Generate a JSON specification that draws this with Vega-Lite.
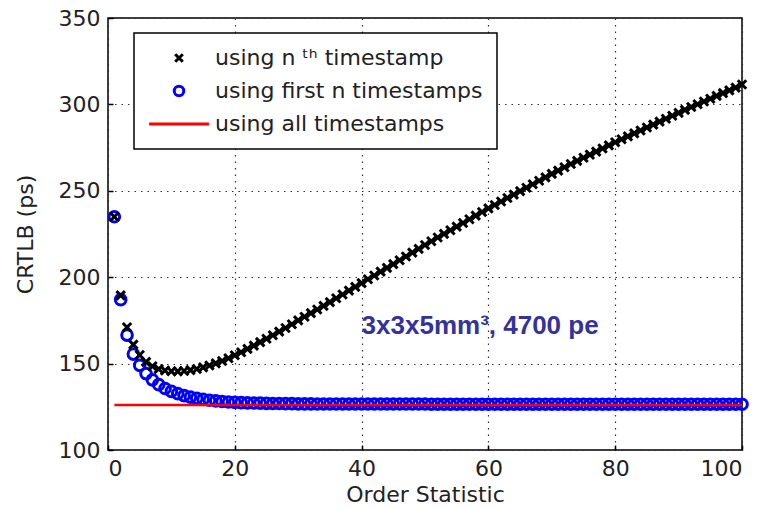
{
  "$schema": "https://vega.github.io/schema/vega-lite/v6.json",
  "width": 634,
  "height": 432,
  "autosize": "none",
  "padding": {"left": 108, "top": 18, "right": 20, "bottom": 59},
  "background": "white",
  "config": {
    "view": {"stroke": "black", "strokeWidth": 1.5},
    "axis": {
      "labelFont": "DejaVu Sans", "labelFontSize": 22, "labelColor": "#222",
      "titleFont": "DejaVu Sans", "titleFontSize": 22, "titleFontWeight": "normal", "titleColor": "#222",
      "grid": true, "gridDash": [1.5, 5], "gridColor": "#333", "gridWidth": 1.2,
      "domain": false, "tickColor": "black", "tickSize": -5, "tickWidth": 1.5
    },
    "legend": {
      "orient": "none", "legendX": 26, "legendY": 15,
      "strokeColor": "black", "strokeWidth": 1.5, "fillColor": "white",
      "padding": 14, "symbolOffset": 20, "labelOffset": 25,
      "labelFont": "DejaVu Sans", "labelFontSize": 22, "labelColor": "#222",
      "rowPadding": 11, "symbolStrokeWidth": 3, "symbolSize": 90,
      "symbolFillColor": "transparent", "labelLimit": 400
    }
  },
  "data": {"values": [
    {"n":1,"v":235,"s":"b"},{"n":2,"v":187,"s":"b"},{"n":3,"v":166.5,"s":"b"},{"n":4,"v":155.5,"s":"b"},{"n":5,"v":149,"s":"b"},
    {"n":6,"v":144.2,"s":"b"},{"n":7,"v":140.6,"s":"b"},{"n":8,"v":137.8,"s":"b"},{"n":9,"v":135.6,"s":"b"},{"n":10,"v":133.9,"s":"b"},
    {"n":11,"v":132.6,"s":"b"},{"n":12,"v":131.5,"s":"b"},{"n":13,"v":130.6,"s":"b"},{"n":14,"v":129.9,"s":"b"},{"n":15,"v":129.3,"s":"b"},
    {"n":16,"v":128.8,"s":"b"},{"n":17,"v":128.4,"s":"b"},{"n":18,"v":128.1,"s":"b"},{"n":19,"v":127.8,"s":"b"},{"n":20,"v":127.6,"s":"b"},
    {"n":21,"v":127.4,"s":"b"},{"n":22,"v":127.3,"s":"b"},{"n":23,"v":127.2,"s":"b"},{"n":24,"v":127.1,"s":"b"},{"n":25,"v":127,"s":"b"},
    {"n":26,"v":126.9,"s":"b"},{"n":27,"v":126.9,"s":"b"},{"n":28,"v":126.8,"s":"b"},{"n":29,"v":126.8,"s":"b"},{"n":30,"v":126.7,"s":"b"},
    {"n":31,"v":126.7,"s":"b"},{"n":32,"v":126.7,"s":"b"},{"n":33,"v":126.6,"s":"b"},{"n":34,"v":126.6,"s":"b"},{"n":35,"v":126.6,"s":"b"},
    {"n":36,"v":126.6,"s":"b"},{"n":37,"v":126.6,"s":"b"},{"n":38,"v":126.6,"s":"b"},{"n":39,"v":126.6,"s":"b"},{"n":40,"v":126.6,"s":"b"},
    {"n":41,"v":126.6,"s":"b"},{"n":42,"v":126.6,"s":"b"},{"n":43,"v":126.6,"s":"b"},{"n":44,"v":126.6,"s":"b"},{"n":45,"v":126.6,"s":"b"},
    {"n":46,"v":126.6,"s":"b"},{"n":47,"v":126.6,"s":"b"},{"n":48,"v":126.6,"s":"b"},{"n":49,"v":126.6,"s":"b"},{"n":50,"v":126.6,"s":"b"},
    {"n":51,"v":126.5,"s":"b"},{"n":52,"v":126.5,"s":"b"},{"n":53,"v":126.5,"s":"b"},{"n":54,"v":126.5,"s":"b"},{"n":55,"v":126.5,"s":"b"},
    {"n":56,"v":126.5,"s":"b"},{"n":57,"v":126.5,"s":"b"},{"n":58,"v":126.5,"s":"b"},{"n":59,"v":126.5,"s":"b"},{"n":60,"v":126.5,"s":"b"},
    {"n":61,"v":126.5,"s":"b"},{"n":62,"v":126.5,"s":"b"},{"n":63,"v":126.5,"s":"b"},{"n":64,"v":126.5,"s":"b"},{"n":65,"v":126.5,"s":"b"},
    {"n":66,"v":126.5,"s":"b"},{"n":67,"v":126.5,"s":"b"},{"n":68,"v":126.5,"s":"b"},{"n":69,"v":126.5,"s":"b"},{"n":70,"v":126.5,"s":"b"},
    {"n":71,"v":126.5,"s":"b"},{"n":72,"v":126.5,"s":"b"},{"n":73,"v":126.5,"s":"b"},{"n":74,"v":126.5,"s":"b"},{"n":75,"v":126.5,"s":"b"},
    {"n":76,"v":126.5,"s":"b"},{"n":77,"v":126.5,"s":"b"},{"n":78,"v":126.5,"s":"b"},{"n":79,"v":126.5,"s":"b"},{"n":80,"v":126.5,"s":"b"},
    {"n":81,"v":126.5,"s":"b"},{"n":82,"v":126.5,"s":"b"},{"n":83,"v":126.5,"s":"b"},{"n":84,"v":126.5,"s":"b"},{"n":85,"v":126.5,"s":"b"},
    {"n":86,"v":126.5,"s":"b"},{"n":87,"v":126.5,"s":"b"},{"n":88,"v":126.5,"s":"b"},{"n":89,"v":126.5,"s":"b"},{"n":90,"v":126.5,"s":"b"},
    {"n":91,"v":126.5,"s":"b"},{"n":92,"v":126.5,"s":"b"},{"n":93,"v":126.5,"s":"b"},{"n":94,"v":126.5,"s":"b"},{"n":95,"v":126.5,"s":"b"},
    {"n":96,"v":126.5,"s":"b"},{"n":97,"v":126.5,"s":"b"},{"n":98,"v":126.5,"s":"b"},{"n":99,"v":126.5,"s":"b"},{"n":100,"v":126.5,"s":"b"},
    {"n":1,"v":235,"s":"a"},{"n":2,"v":189.5,"s":"a"},{"n":3,"v":171,"s":"a"},{"n":4,"v":161,"s":"a"},{"n":5,"v":155,"s":"a"},
    {"n":6,"v":151,"s":"a"},{"n":7,"v":148.5,"s":"a"},{"n":8,"v":146.9,"s":"a"},{"n":9,"v":146,"s":"a"},{"n":10,"v":145.6,"s":"a"},
    {"n":11,"v":145.5,"s":"a"},{"n":12,"v":145.7,"s":"a"},{"n":13,"v":146.2,"s":"a"},{"n":14,"v":146.9,"s":"a"},{"n":15,"v":147.8,"s":"a"},
    {"n":16,"v":148.9,"s":"a"},{"n":17,"v":150.1,"s":"a"},{"n":18,"v":151.5,"s":"a"},{"n":19,"v":153.1,"s":"a"},{"n":20,"v":154.8,"s":"a"},
    {"n":21,"v":156.6,"s":"a"},{"n":22,"v":158.5,"s":"a"},{"n":23,"v":160.4,"s":"a"},{"n":24,"v":162.4,"s":"a"},{"n":25,"v":164.4,"s":"a"},
    {"n":26,"v":166.4,"s":"a"},{"n":27,"v":168.5,"s":"a"},{"n":28,"v":170.6,"s":"a"},{"n":29,"v":172.8,"s":"a"},{"n":30,"v":175,"s":"a"},
    {"n":31,"v":177.1,"s":"a"},{"n":32,"v":179.2,"s":"a"},{"n":33,"v":181.3,"s":"a"},{"n":34,"v":183.4,"s":"a"},{"n":35,"v":185.6,"s":"a"},
    {"n":36,"v":187.8,"s":"a"},{"n":37,"v":190,"s":"a"},{"n":38,"v":192.2,"s":"a"},{"n":39,"v":194.4,"s":"a"},{"n":40,"v":196.6,"s":"a"},
    {"n":41,"v":198.8,"s":"a"},{"n":42,"v":201,"s":"a"},{"n":43,"v":203.2,"s":"a"},{"n":44,"v":205.4,"s":"a"},{"n":45,"v":207.6,"s":"a"},
    {"n":46,"v":209.8,"s":"a"},{"n":47,"v":212,"s":"a"},{"n":48,"v":214.2,"s":"a"},{"n":49,"v":216.4,"s":"a"},{"n":50,"v":218.6,"s":"a"},
    {"n":51,"v":220.8,"s":"a"},{"n":52,"v":223,"s":"a"},{"n":53,"v":225.1,"s":"a"},{"n":54,"v":227.2,"s":"a"},{"n":55,"v":229.3,"s":"a"},
    {"n":56,"v":231.4,"s":"a"},{"n":57,"v":233.5,"s":"a"},{"n":58,"v":235.6,"s":"a"},{"n":59,"v":237.7,"s":"a"},{"n":60,"v":239.8,"s":"a"},
    {"n":61,"v":241.8,"s":"a"},{"n":62,"v":243.8,"s":"a"},{"n":63,"v":245.8,"s":"a"},{"n":64,"v":247.8,"s":"a"},{"n":65,"v":249.8,"s":"a"},
    {"n":66,"v":251.8,"s":"a"},{"n":67,"v":253.8,"s":"a"},{"n":68,"v":255.8,"s":"a"},{"n":69,"v":257.8,"s":"a"},{"n":70,"v":259.8,"s":"a"},
    {"n":71,"v":261.7,"s":"a"},{"n":72,"v":263.6,"s":"a"},{"n":73,"v":265.5,"s":"a"},{"n":74,"v":267.3,"s":"a"},{"n":75,"v":269.1,"s":"a"},
    {"n":76,"v":270.9,"s":"a"},{"n":77,"v":272.7,"s":"a"},{"n":78,"v":274.5,"s":"a"},{"n":79,"v":276.3,"s":"a"},{"n":80,"v":278.1,"s":"a"},
    {"n":81,"v":279.8,"s":"a"},{"n":82,"v":281.5,"s":"a"},{"n":83,"v":283.2,"s":"a"},{"n":84,"v":284.9,"s":"a"},{"n":85,"v":286.6,"s":"a"},
    {"n":86,"v":288.3,"s":"a"},{"n":87,"v":290,"s":"a"},{"n":88,"v":291.7,"s":"a"},{"n":89,"v":293.4,"s":"a"},{"n":90,"v":295.1,"s":"a"},
    {"n":91,"v":296.8,"s":"a"},{"n":92,"v":298.5,"s":"a"},{"n":93,"v":300.1,"s":"a"},{"n":94,"v":301.7,"s":"a"},{"n":95,"v":303.3,"s":"a"},
    {"n":96,"v":304.9,"s":"a"},{"n":97,"v":306.5,"s":"a"},{"n":98,"v":308.1,"s":"a"},{"n":99,"v":309.7,"s":"a"},{"n":100,"v":311.5,"s":"a"},
    {"n":1,"v":126,"s":"c"},{"n":100,"v":126,"s":"c"}
  ]},
  "encoding": {
    "x": {"field": "n", "type": "quantitative",
      "scale": {"domain": [0, 100], "nice": false},
      "axis": {"title": "Order Statistic", "values": [0, 20, 40, 60, 80, 100], "labelPadding": 13, "titlePadding": 5}},
    "y": {"field": "v", "type": "quantitative",
      "scale": {"domain": [100, 350], "nice": false},
      "axis": {"title": "CRTLB (ps)", "values": [100, 150, 200, 250, 300, 350], "labelPadding": 13, "titlePadding": 21}}
  },
  "layer": [
    {
      "transform": [{"filter": "datum.s != 'c'"}],
      "mark": {"type": "point", "filled": false, "strokeWidth": 3, "size": 113, "opacity": 1, "clip": false},
      "encoding": {
        "stroke": {"field": "s", "type": "nominal",
          "scale": {"domain": ["a", "b", "c"], "range": ["black", "blue", "red"]},
          "legend": {"title": null, "labelExpr": "datum.value == 'a' ? 'using n ᵗʰ timestamp' : datum.value == 'b' ? 'using first n timestamps' : 'using all timestamps'"}},
        "shape": {"field": "s", "type": "nominal",
          "scale": {"domain": ["a", "b", "c"], "range": ["M-0.8,-0.8L0.8,0.8M-0.8,0.8L0.8,-0.8", "circle", "M-6.3,0H6.3"]},
          "legend": {"title": null, "labelExpr": "datum.value == 'a' ? 'using n ᵗʰ timestamp' : datum.value == 'b' ? 'using first n timestamps' : 'using all timestamps'"}}
      }
    },
    {
      "transform": [{"filter": "datum.s == 'c'"}],
      "mark": {"type": "line", "strokeWidth": 2.5},
      "encoding": {
        "stroke": {"field": "s", "type": "nominal",
          "scale": {"domain": ["a", "b", "c"], "range": ["black", "blue", "red"]},
          "legend": {"title": null, "labelExpr": "datum.value == 'a' ? 'using n ᵗʰ timestamp' : datum.value == 'b' ? 'using first n timestamps' : 'using all timestamps'"}}
      }
    },
    {
      "data": {"values": [{"n": 40, "v": 172, "label": "3x3x5mm³, 4700 pe"}]},
      "mark": {"type": "text", "align": "left", "baseline": "middle", "font": "Liberation Sans", "fontWeight": "bold", "fontSize": 26, "color": "#333399"},
      "encoding": {"text": {"field": "label"}}
    }
  ]
}
